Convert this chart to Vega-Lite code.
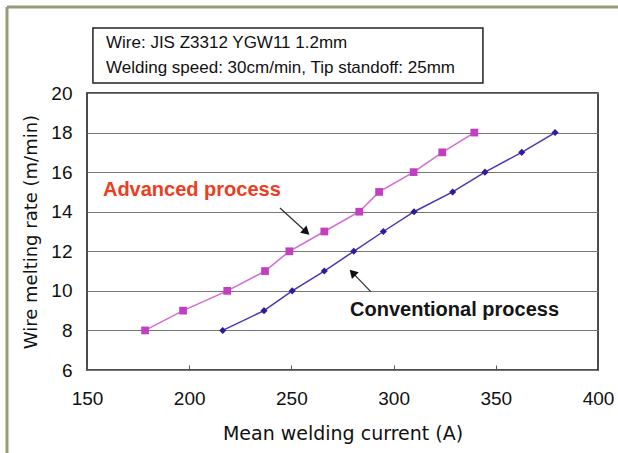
{
  "$schema": "https://vega.github.io/schema/vega-lite/v6.json",
  "width": 511,
  "height": 277,
  "autosize": {"type": "none"},
  "padding": {"left": 87, "top": 93, "right": 20, "bottom": 83},
  "background": "white",
  "config": {
    "font": "Liberation Sans",
    "view": {"stroke": "#111111", "strokeWidth": 1.5},
    "axis": {"labelFont": "Liberation Sans", "titleFont": "DejaVu Sans", "labelColor": "#111111", "titleColor": "#111111", "titleFontWeight": "normal", "labelFlush": false, "tickCount": 20},
    "axisY": {"tickCount": 20, "gridColor": "#777777", "gridOpacity": 1}
  },
  "datasets": {
    "series": [
      {"process": "Advanced", "current": 178.4, "rate": 8},
      {"process": "Advanced", "current": 197.0, "rate": 9},
      {"process": "Advanced", "current": 218.6, "rate": 10},
      {"process": "Advanced", "current": 237.1, "rate": 11},
      {"process": "Advanced", "current": 249.0, "rate": 12},
      {"process": "Advanced", "current": 266.1, "rate": 13},
      {"process": "Advanced", "current": 283.2, "rate": 14},
      {"process": "Advanced", "current": 292.9, "rate": 15},
      {"process": "Advanced", "current": 309.8, "rate": 16},
      {"process": "Advanced", "current": 323.8, "rate": 17},
      {"process": "Advanced", "current": 339.5, "rate": 18},
      {"process": "Conventional", "current": 216.4, "rate": 8},
      {"process": "Conventional", "current": 236.6, "rate": 9},
      {"process": "Conventional", "current": 250.4, "rate": 10},
      {"process": "Conventional", "current": 266.1, "rate": 11},
      {"process": "Conventional", "current": 280.5, "rate": 12},
      {"process": "Conventional", "current": 295.0, "rate": 13},
      {"process": "Conventional", "current": 310.0, "rate": 14},
      {"process": "Conventional", "current": 328.9, "rate": 15},
      {"process": "Conventional", "current": 344.7, "rate": 16},
      {"process": "Conventional", "current": 362.7, "rate": 17},
      {"process": "Conventional", "current": 379.0, "rate": 18}
    ],
    "frame": [
      {"xa": 110.86, "ya": 24.35, "xb": 409.8, "yb": 24.35},
      {"xa": 110.86, "ya": 24.35, "xb": 110.86, "yb": 1.8}
    ],
    "box": [
      {"xa": 152.9, "ya": 23.29, "xb": 343.7, "yb": 20.5}
    ],
    "boxtext": [
      {"x": 159.3, "y": 22.53, "label": "Wire: JIS Z3312 YGW11 1.2mm"},
      {"x": 159.3, "y": 21.26, "label": "Welding speed: 30cm/min, Tip standoff: 25mm"}
    ],
    "arrows": [
      {"xa": 244.4, "ya": 14.19, "xb": 257.3, "yb": 12.98, "angle": 132},
      {"xa": 288.8, "ya": 9.96, "xb": 279.9, "yb": 10.92, "angle": 316}
    ],
    "notes": [
      {"x": 157.8, "y": 15.1, "label": "Advanced process", "process": "Advanced"},
      {"x": 278.7, "y": 9.03, "label": "Conventional process", "process": "Conventional"}
    ]
  },
  "layer": [
    {
      "data": {"name": "series"},
      "mark": {"type": "line", "strokeWidth": 1.5},
      "encoding": {
        "x": {"field": "current", "type": "quantitative", "scale": {"domain": [150, 400], "nice": false, "zero": false},
          "axis": {"title": "Mean welding current (A)", "values": [150, 200, 250, 300, 350, 400], "format": "d", "grid": false, "domain": false, "tickSize": -5, "tickColor": "#555555", "labelFontSize": 19, "labelPadding": 24, "labelOverlap": false, "titleFontSize": 19, "titlePadding": 16}},
        "y": {"field": "rate", "type": "quantitative", "scale": {"domain": [6, 20], "nice": false, "zero": false},
          "axis": {"title": "Wire melting rate (m/min)", "values": [6, 8, 10, 12, 14, 16, 18, 20], "format": "d", "grid": true, "gridColor": "#777777", "gridWidth": 1, "gridOpacity": 1, "domain": false, "ticks": false, "labelFontSize": 19, "labelPadding": 15, "labelOverlap": false, "labelBound": false, "titleFontSize": 18, "titlePadding": 10}},
        "color": {"field": "process", "type": "nominal", "scale": {"domain": ["Advanced", "Conventional"], "range": ["#d46ad4", "#4a35b8"]}, "legend": null},
        "detail": {"field": "process"}
      }
    },
    {
      "data": {"name": "series"},
      "mark": {"type": "point", "filled": true, "opacity": 1},
      "encoding": {
        "x": {"field": "current", "type": "quantitative"},
        "y": {"field": "rate", "type": "quantitative"},
        "shape": {"field": "process", "type": "nominal", "scale": {"domain": ["Advanced", "Conventional"], "range": ["square", "diamond"]}, "legend": null},
        "size": {"field": "process", "type": "nominal", "scale": {"domain": ["Advanced", "Conventional"], "range": [60, 50]}, "legend": null},
        "color": {"field": "process", "type": "nominal", "scale": {"domain": ["Advanced", "Conventional"], "range": ["#c23fc2", "#2e1a9a"]}, "legend": null}
      }
    },
    {
      "data": {"name": "frame"},
      "mark": {"type": "rule", "color": "#999a78", "strokeWidth": 3},
      "encoding": {
        "x": {"field": "xa", "type": "quantitative"},
        "x2": {"field": "xb"},
        "y": {"field": "ya", "type": "quantitative"},
        "y2": {"field": "yb"}
      }
    },
    {
      "data": {"name": "box"},
      "mark": {"type": "rect", "fill": "white", "stroke": "#222222", "strokeWidth": 1.5},
      "encoding": {
        "x": {"field": "xa", "type": "quantitative"},
        "x2": {"field": "xb"},
        "y": {"field": "ya", "type": "quantitative"},
        "y2": {"field": "yb"}
      }
    },
    {
      "data": {"name": "boxtext"},
      "mark": {"type": "text", "align": "left", "baseline": "middle", "fontSize": 17, "color": "#111111"},
      "encoding": {
        "x": {"field": "x", "type": "quantitative"},
        "y": {"field": "y", "type": "quantitative"},
        "text": {"field": "label"}
      }
    },
    {
      "data": {"name": "arrows"},
      "mark": {"type": "rule", "color": "#333333", "strokeWidth": 1.3},
      "encoding": {
        "x": {"field": "xa", "type": "quantitative"},
        "x2": {"field": "xb"},
        "y": {"field": "ya", "type": "quantitative"},
        "y2": {"field": "yb"}
      }
    },
    {
      "data": {"name": "arrows"},
      "mark": {"type": "point", "shape": "triangle-up", "filled": true, "color": "#111111", "opacity": 1, "size": 90},
      "encoding": {
        "x": {"field": "xb", "type": "quantitative"},
        "y": {"field": "yb", "type": "quantitative"},
        "angle": {"field": "angle", "type": "quantitative", "scale": null}
      }
    },
    {
      "data": {"name": "notes"},
      "mark": {"type": "text", "align": "left", "baseline": "middle", "fontSize": 20, "fontWeight": "bold"},
      "encoding": {
        "x": {"field": "x", "type": "quantitative"},
        "y": {"field": "y", "type": "quantitative"},
        "text": {"field": "label"},
        "color": {"field": "process", "type": "nominal", "scale": {"domain": ["Advanced", "Conventional"], "range": ["#ec3d22", "#151515"]}, "legend": null}
      }
    }
  ],
  "resolve": {"scale": {"color": "independent"}}
}
